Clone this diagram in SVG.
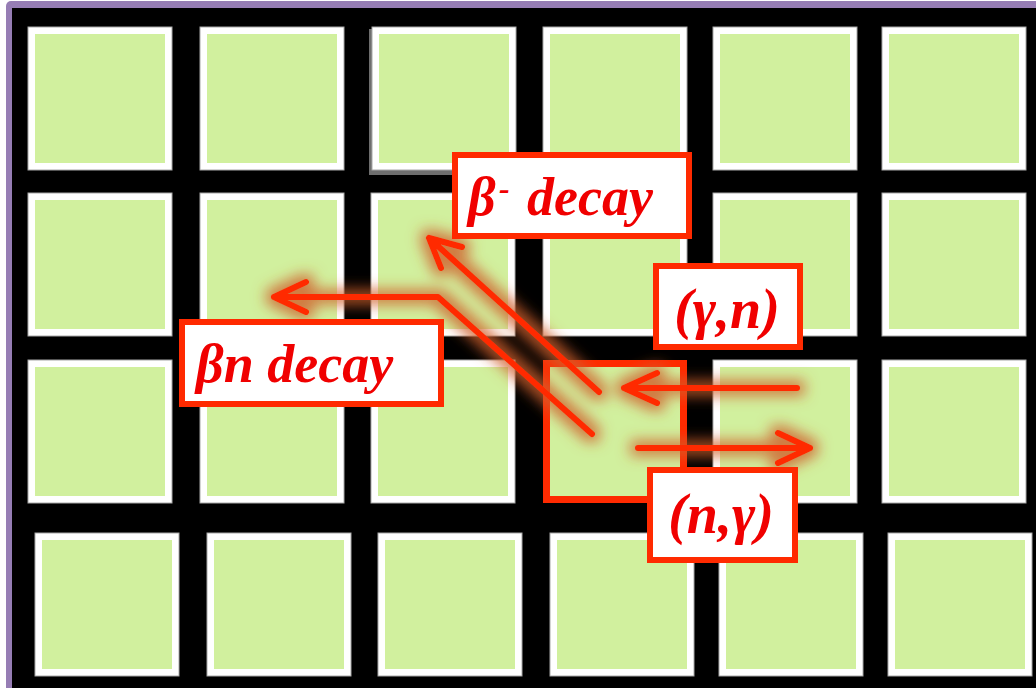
<svg xmlns="http://www.w3.org/2000/svg" width="1036" height="688" viewBox="0 0 1036 688">
  <defs>
    <style>
      .cell { fill: #ffffff; stroke: #a8a8a8; stroke-width: 1; }
      .in { fill: #d1f09e; }
      .arrow { fill: none; stroke: #ff2a00; stroke-width: 6; stroke-linecap: round; stroke-linejoin: round; }
      .box { fill: #ffffff; stroke: #ff2a00; stroke-width: 6; }
      .lbl { font-family: "Liberation Serif", "Times New Roman", serif; font-weight: bold; font-style: italic; font-size: 54px; fill: #f00000; }
      .par { font-size: 56px; }
    </style>
    <filter id="glow" filterUnits="userSpaceOnUse" x="0" y="0" width="1036" height="688">
      <feMorphology operator="dilate" radius="5" in="SourceAlpha" result="d"/>
      <feGaussianBlur in="d" stdDeviation="7" result="b"/>
      <feFlood flood-color="#d0602c" flood-opacity="0.8"/>
      <feComposite in2="b" operator="in" result="g"/>
      <feMerge><feMergeNode in="g"/><feMergeNode in="SourceGraphic"/></feMerge>
    </filter>
  </defs>

  <rect x="0" y="0" width="1036" height="688" fill="#ffffff"/>
  <rect x="6" y="1" width="1040" height="700" rx="5" fill="#967db4"/>
  <rect x="12" y="8" width="1030" height="690" fill="#000000"/>

  <g id="grid">
    <!-- row 1 -->
    <g id="r1c1"><rect class="cell" x="28" y="27" width="144" height="143"/><rect class="in" x="35" y="34" width="130" height="129"/></g>
    <g id="r1c2"><rect class="cell" x="200" y="27" width="144" height="143"/><rect class="in" x="207" y="34" width="130" height="129"/></g>
    <g id="r1c3"><rect x="369" y="29" width="146" height="146" fill="#6e6e6e"/><rect class="cell" x="372" y="27" width="144" height="143"/><rect class="in" x="379" y="34" width="130" height="129"/></g>
    <g id="r1c4"><rect class="cell" x="543" y="27" width="144" height="143"/><rect class="in" x="550" y="34" width="130" height="129"/></g>
    <g id="r1c5"><rect class="cell" x="713" y="27" width="144" height="143"/><rect class="in" x="720" y="34" width="130" height="129"/></g>
    <g id="r1c6"><rect class="cell" x="882" y="27" width="144" height="143"/><rect class="in" x="889" y="34" width="130" height="129"/></g>
    <!-- row 2 -->
    <g id="r2c1"><rect class="cell" x="28" y="193" width="144" height="143"/><rect class="in" x="35" y="200" width="130" height="129"/></g>
    <g id="r2c2"><rect class="cell" x="200" y="193" width="144" height="143"/><rect class="in" x="207" y="200" width="130" height="129"/></g>
    <g id="r2c3"><rect class="cell" x="371" y="193" width="144" height="143"/><rect class="in" x="378" y="200" width="130" height="129"/></g>
    <g id="r2c4"><rect class="cell" x="543" y="193" width="144" height="143"/><rect class="in" x="550" y="200" width="130" height="129"/></g>
    <g id="r2c5"><rect class="cell" x="713" y="193" width="144" height="143"/><rect class="in" x="720" y="200" width="130" height="129"/></g>
    <g id="r2c6"><rect class="cell" x="882" y="193" width="144" height="143"/><rect class="in" x="889" y="200" width="130" height="129"/></g>
    <!-- row 3 -->
    <g id="r3c1"><rect class="cell" x="28" y="360" width="144" height="143"/><rect class="in" x="35" y="367" width="130" height="129"/></g>
    <g id="r3c2"><rect class="cell" x="200" y="360" width="144" height="143"/><rect class="in" x="207" y="367" width="130" height="129"/></g>
    <g id="r3c3"><rect class="cell" x="371" y="360" width="144" height="143"/><rect class="in" x="378" y="367" width="130" height="129"/></g>
    <g id="r3c4"><rect class="in" x="546" y="363" width="138" height="137"/><rect x="546.5" y="363.5" width="137" height="136" fill="none" stroke="#ff2a00" stroke-width="7"/></g>
    <g id="r3c5"><rect class="cell" x="713" y="360" width="144" height="143"/><rect class="in" x="720" y="367" width="130" height="129"/></g>
    <g id="r3c6"><rect class="cell" x="882" y="360" width="144" height="143"/><rect class="in" x="889" y="367" width="130" height="129"/></g>
    <!-- row 4 -->
    <g id="r4c1"><rect class="cell" x="35" y="533" width="144" height="143"/><rect class="in" x="42" y="540" width="130" height="129"/></g>
    <g id="r4c2"><rect class="cell" x="207" y="533" width="144" height="143"/><rect class="in" x="214" y="540" width="130" height="129"/></g>
    <g id="r4c3"><rect class="cell" x="378" y="533" width="144" height="143"/><rect class="in" x="385" y="540" width="130" height="129"/></g>
    <g id="r4c4"><rect class="cell" x="550" y="533" width="144" height="143"/><rect class="in" x="557" y="540" width="130" height="129"/></g>
    <g id="r4c5"><rect class="cell" x="719" y="533" width="144" height="143"/><rect class="in" x="726" y="540" width="130" height="129"/></g>
    <g id="r4c6"><rect class="cell" x="888" y="533" width="144" height="143"/><rect class="in" x="895" y="540" width="130" height="129"/></g>
  </g>

  <g id="connectors" filter="url(#glow)">
    <path class="arrow" d="M797,388 H624 M657,373 L624,388 L657,403"/>
    <path class="arrow" d="M638,448 H810 M778,433 L810,448 L778,463"/>
    <path class="arrow" d="M599,392 L429,238 M462,247 L429,238 L441,268"/>
    <path class="arrow" d="M592,434 L438,297 H274 M306,282 L274,297 L306,312"/>
  </g>

  <g id="label-beta-minus">
    <rect class="box" x="455" y="155" width="234" height="81"/>
    <text class="lbl" x="468" y="215">β<tspan x="499" dy="-16" font-size="32">-</tspan><tspan x="527" dy="16">decay</tspan></text>
  </g>
  <g id="label-beta-n">
    <rect class="box" x="182" y="322" width="259" height="82"/>
    <text class="lbl" x="196" y="382">βn decay</text>
  </g>
  <g id="label-gamma-n">
    <rect class="box" x="656" y="266" width="144" height="81"/>
    <text class="lbl par" x="727" y="328" text-anchor="middle">(γ,n)</text>
  </g>
  <g id="label-n-gamma">
    <rect class="box" x="650" y="470" width="145" height="90"/>
    <text class="lbl par" x="721" y="533" text-anchor="middle">(n,γ)</text>
  </g>
</svg>
